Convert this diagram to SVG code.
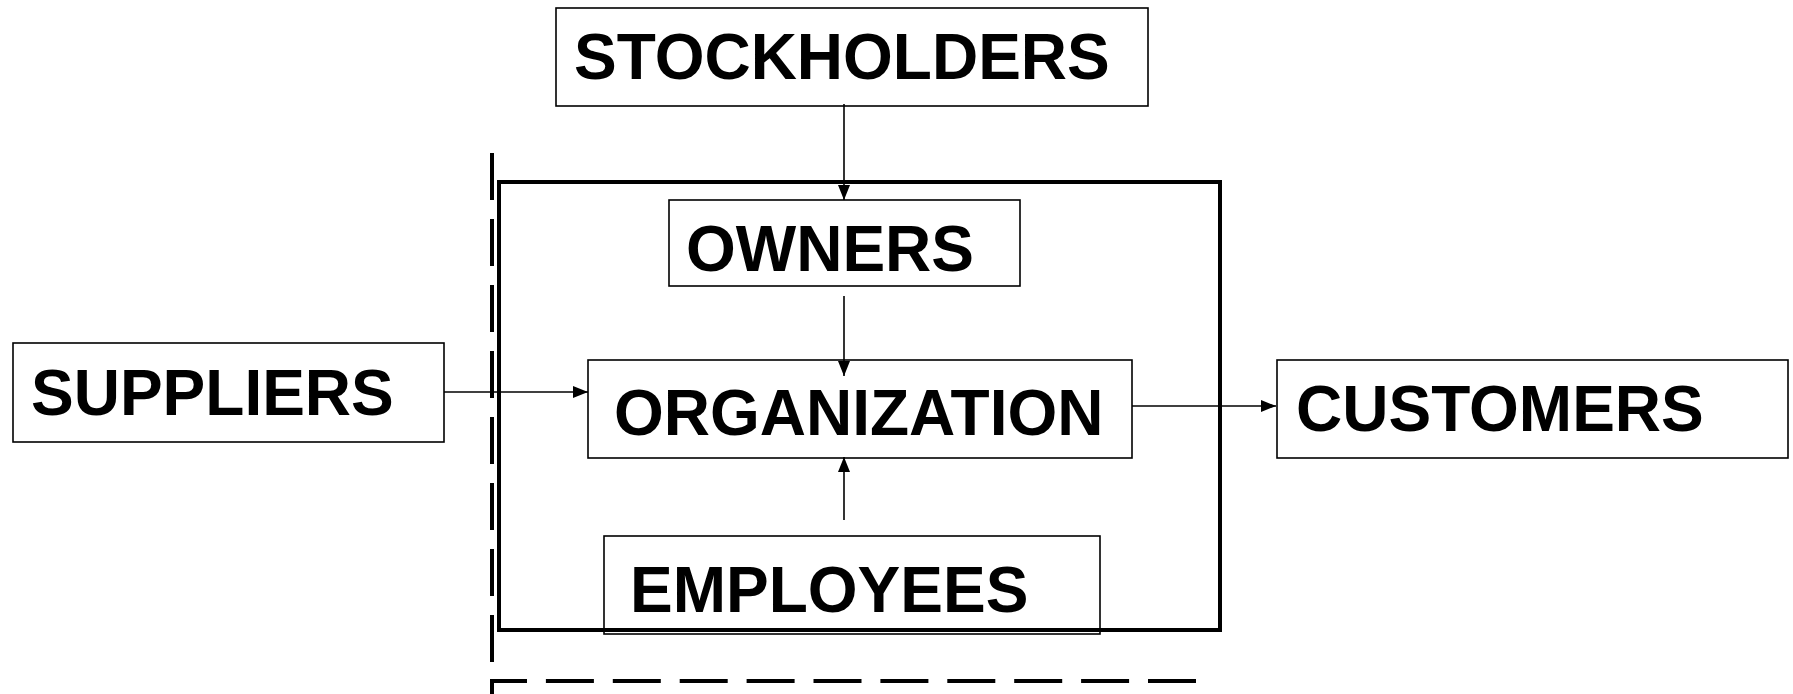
<svg xmlns="http://www.w3.org/2000/svg" width="1793" height="694" viewBox="0 0 1793 694">
<style>
.box{fill:none;stroke:#000;stroke-width:1.6}
.lbl{font-family:"Liberation Sans",Arial,sans-serif;font-weight:bold;font-size:64px;fill:#000}
.conn{stroke:#000;stroke-width:1.6;fill:none}
.dash{stroke:#000;stroke-width:4;fill:none}
</style>
<defs>
<marker id="ah" markerUnits="userSpaceOnUse" markerWidth="16" markerHeight="14" refX="15" refY="7" orient="auto">
<path d="M0,1 L15,7 L0,13 Z" fill="#000"/>
</marker>
</defs>
<rect width="1793" height="694" fill="#fff"/>
<g id="boundary">
<line class="dash" x1="492" y1="153" x2="492" y2="662" stroke-dasharray="47 19"/>
<path class="dash" d="M492,694 V681 H1196" stroke-dasharray="48 18.9"/>
<rect x="499" y="182" width="721" height="448" fill="none" stroke="#000" stroke-width="4"/>
</g>
<g id="stockholders">
<rect class="box" x="556" y="8" width="592" height="98" fill="#fff"/>
<text class="lbl" x="574" y="79">STOCKHOLDERS</text>
</g>
<g id="owners">
<rect class="box" x="669" y="200" width="351" height="86"/>
<text class="lbl" x="686" y="271">OWNERS</text>
</g>
<g id="organization">
<rect class="box" x="588" y="360" width="544" height="98"/>
<text class="lbl" x="614" y="435">ORGANIZATION</text>
</g>
<g id="employees">
<rect class="box" x="604" y="536" width="496" height="98"/>
<text class="lbl" x="630" y="612">EMPLOYEES</text>
</g>
<g id="suppliers">
<rect class="box" x="13" y="343" width="431" height="99"/>
<text class="lbl" x="31" y="415">SUPPLIERS</text>
</g>
<g id="customers">
<rect class="box" x="1277" y="360" width="511" height="98"/>
<text class="lbl" x="1296" y="431">CUSTOMERS</text>
</g>
<g id="connectors">
<line class="conn" x1="844" y1="104" x2="844" y2="200" marker-end="url(#ah)"/>
<line class="conn" x1="844" y1="296" x2="844" y2="376" marker-end="url(#ah)"/>
<line class="conn" x1="844" y1="520" x2="844" y2="457" marker-end="url(#ah)"/>
<line class="conn" x1="444" y1="392" x2="588" y2="392" marker-end="url(#ah)"/>
<line class="conn" x1="1132" y1="406" x2="1276" y2="406" marker-end="url(#ah)"/>
</g>
</svg>
